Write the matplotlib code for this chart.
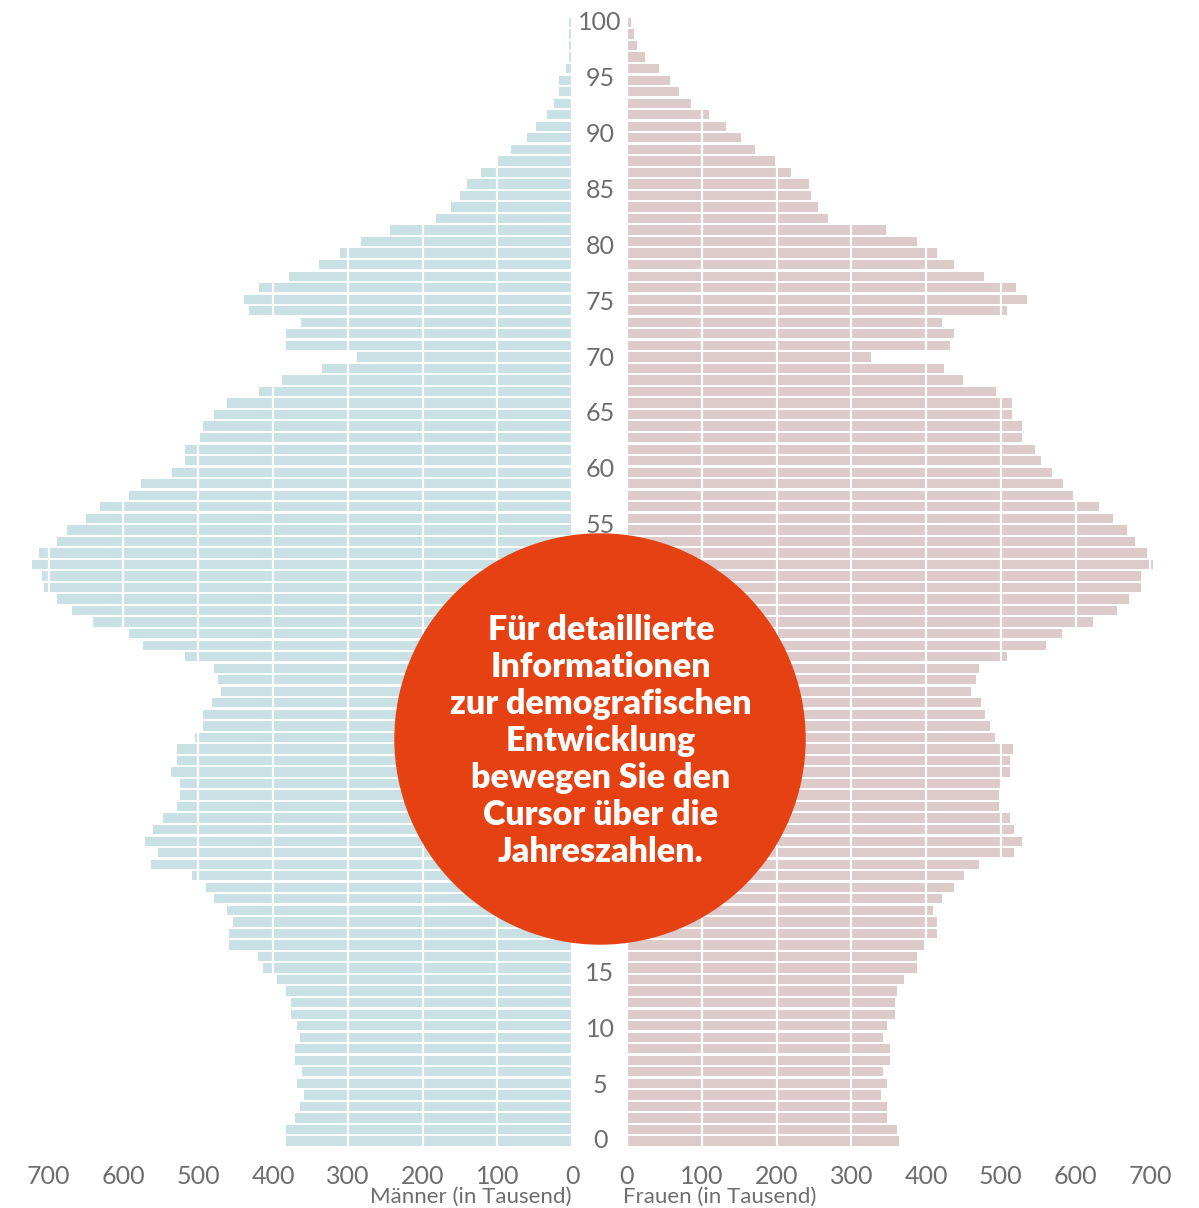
import numpy as np
import matplotlib
matplotlib.use("Agg")
import matplotlib.pyplot as plt
import matplotlib.transforms as mtransforms
from matplotlib.patches import Circle

plt.rcParams['font.family'] = ['Lato', 'DejaVu Sans']

# Bevölkerung nach Alter (in Tausend), von oben (älteste) nach unten (0 Jahre)
maenner = [4, 4, 4, 4, 8, 17, 17, 24, 34, 48, 60, 81, 101, 122, 141, 150, 162, 182, 243, 282,
           311, 338, 379, 419, 439, 432, 363, 383, 383, 288, 335, 388, 419, 461, 479, 494, 497, 518, 518, 535,
           577, 593, 631, 650, 676, 689, 713, 722, 709, 706, 689, 669, 641, 593, 574, 518, 479, 473, 469, 482,
           494, 494, 505, 528, 528, 536, 525, 525, 528, 547, 560, 571, 554, 563, 509, 490, 479, 461, 453, 459,
           459, 420, 414, 394, 383, 376, 376, 368, 364, 370, 370, 361, 368, 358, 364, 370, 383, 383]
frauen = [6, 9, 13, 24, 43, 58, 70, 86, 110, 132, 152, 171, 198, 219, 243, 246, 256, 269, 347, 388,
          415, 438, 477, 521, 535, 509, 421, 438, 432, 327, 424, 449, 494, 515, 515, 529, 529, 546, 554, 568,
          583, 597, 631, 650, 669, 679, 696, 704, 688, 688, 672, 655, 624, 582, 560, 509, 471, 467, 460, 473,
          479, 486, 492, 516, 513, 513, 501, 497, 497, 513, 518, 529, 518, 471, 451, 438, 421, 410, 415, 415,
          397, 388, 388, 370, 361, 358, 358, 348, 343, 352, 352, 343, 348, 340, 348, 348, 361, 364]
maenner = maenner[::-1]
frauen = frauen[::-1]

alter_ticks = list(range(0, 101, 5))
wert_ticks = [0, 100, 200, 300, 400, 500, 600, 700]

hinweis = "Für detaillierte\nInformationen\nzur demografischen\nEntwicklung\nbewegen Sie den\nCursor über die\nJahreszahlen."

farbe_m = '#c9e1e4'
farbe_f = '#ddcaca'
grau = '#6d6d6d'

W, H = 1199, 1208
fig = plt.figure(figsize=(W / 100, H / 100), dpi=100)

px = 0.7475          # Pixel pro Tausend
py = 11.185          # Pixel pro Lebensjahr (Beschriftung)
y0 = H - 1141        # Pixel (von unten) fuer Alter 0
ylo, yhi = -1.5, 101.5
ax_bottom = (y0 + ylo * py) / H
ax_height = (yhi - ylo) * py / H
xmax = 740

ax_m = fig.add_axes([(572 - xmax * px) / W, ax_bottom, xmax * px / W, ax_height])
ax_f = fig.add_axes([627 / W, ax_bottom, xmax * px / W, ax_height])

# 98 Balken gleichmaessig ueber die Altersachse 0..100 verteilt
pos = np.linspace(0, 100, len(maenner))

ax_m.barh(pos, maenner, height=0.83, color=farbe_m)
ax_f.barh(pos, frauen, height=0.83, color=farbe_f)

ax_m.set_xlim(xmax, 0)
ax_f.set_xlim(0, xmax)

for ax in (ax_m, ax_f):
    ax.set_ylim(ylo, yhi)
    ax.set_xticks(wert_ticks)
    ax.set_xticklabels([str(v) for v in wert_ticks])
    ax.set_yticks([])
    ax.tick_params(axis='x', length=0, pad=5, labelsize=18, labelcolor=grau)
    for s in ax.spines.values():
        s.set_visible(False)
    ax.grid(axis='x', color='white', linewidth=1.6)
    ax.set_axisbelow(False)

# Hinweis-Kreis (Mittelpunkt und Radius in Pixeln)
kx, ky, kr = 600, 739, 205

# Altersbeschriftung in der Mitte (unter dem Kreis verdeckte weglassen)
trans = mtransforms.blended_transform_factory(fig.transFigure, ax_f.transData)
for a in alter_ticks:
    y_pix = 1141 - a * py
    if abs(y_pix - ky) < kr + 5:
        continue
    ax_f.text(600 / W, a, str(a), transform=trans, ha='center', va='center',
              fontsize=18, color=grau, clip_on=False)

fig.text(572 / W, 1 - 1197 / H, "Männer (in Tausend)", ha='right', va='center',
         fontsize=16, color=grau)
fig.text(623 / W, 1 - 1197 / H, "Frauen (in Tausend)", ha='left', va='center',
         fontsize=16, color=grau)

ax_c = fig.add_axes([0, 0, 1, 1])
ax_c.set_xlim(0, W)
ax_c.set_ylim(H, 0)
ax_c.set_aspect('equal')
ax_c.axis('off')
ax_c.add_patch(Circle((kx, ky), kr, color='#e54113'))
ax_c.text(601, 741, hinweis, ha='center', va='center', multialignment='center',
          fontsize=24.5, fontweight='heavy', color='white', linespacing=1.19)

fig.savefig('out.png', dpi=100)
